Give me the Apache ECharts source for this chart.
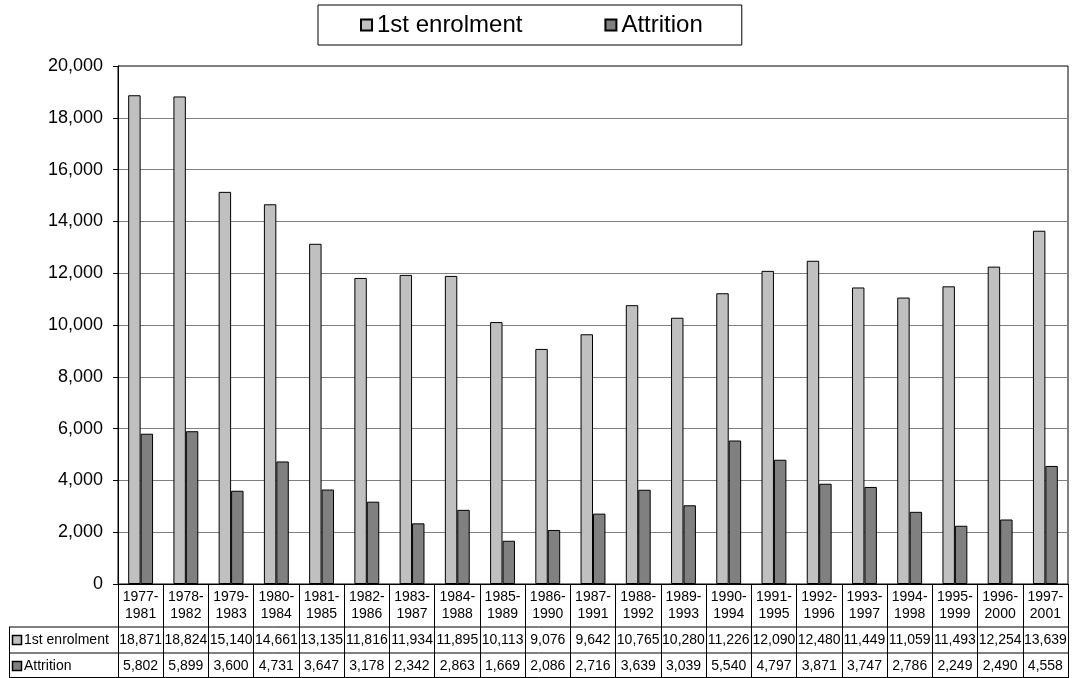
<!DOCTYPE html>
<html>
<head>
<meta charset="utf-8">
<script src="https://cdn.jsdelivr.net/npm/echarts@6/dist/echarts.min.js"></script>
<style>
  html, body { margin: 0; padding: 0; background: #fff; }
  #chart { width: 1072px; height: 678px; }
</style>
</head>
<body>
<div id="chart"></div>
<script>
// Cohort periods (enrolment year - completion year)
const periods = [
  '1977-1981', '1978-1982', '1979-1983', '1980-1984', '1981-1985', '1982-1986',
  '1983-1987', '1984-1988', '1985-1989', '1986-1990', '1987-1991', '1988-1992',
  '1989-1993', '1990-1994', '1991-1995', '1992-1996', '1993-1997', '1994-1998',
  '1995-1999', '1996-2000', '1997-2001'
];
const enrolment = [
  18871, 18824, 15140, 14661, 13135, 11816, 11934, 11895, 10113, 9076, 9642,
  10765, 10280, 11226, 12090, 12480, 11449, 11059, 11493, 12254, 13639
];
const attrition = [
  5802, 5899, 3600, 4731, 3647, 3178, 2342, 2863, 1669, 2086, 2716,
  3639, 3039, 5540, 4797, 3871, 3747, 2786, 2249, 2490, 4558
];
const seriesNames = ['1st enrolment', 'Attrition'];
const seriesColors = ['#c0c0c0', '#808080'];
const yMin = 0, yMax = 20000, yStep = 2000;

const FONT = 'Liberation Sans, Arial, Helvetica, sans-serif';
const W = 1072, H = 678;
const plot = { left: 118, right: 1068, top: 66, bottom: 584 };
const table = { labelLeft: 9, catRowH: 43, valRowH: 26 };

const fmt = v => String(v).replace(/\B(?=(\d{3})+(?!\d))/g, ',');

// rows of the data table under the plot
const row1Top = plot.bottom + table.catRowH;
const row2Top = row1Top + table.valRowH;
const tableBottom = H - 0.5;

function valueAxis(values, offset) {
  return {
    type: 'category',
    gridIndex: 0,
    position: 'bottom',
    offset: offset,
    data: values.map(fmt),
    axisLine: { show: false },
    axisTick: { show: false },
    axisLabel: { interval: 0, margin: 6, fontSize: 14, color: '#000', fontFamily: FONT }
  };
}

const lineStyle = { stroke: '#000', lineWidth: 1 };
const graphic = [
  { type: 'line', shape: { x1: table.labelLeft, y1: row1Top, x2: plot.right, y2: row1Top }, style: lineStyle },
  { type: 'line', shape: { x1: table.labelLeft, y1: row2Top, x2: plot.right, y2: row2Top }, style: lineStyle },
  { type: 'line', shape: { x1: table.labelLeft, y1: tableBottom, x2: plot.right, y2: tableBottom }, style: lineStyle },
  { type: 'line', shape: { x1: table.labelLeft + 0.5, y1: row1Top, x2: table.labelLeft + 0.5, y2: tableBottom }, style: lineStyle }
];
[row1Top, row2Top].forEach((top, i) => {
  const cy = top + table.valRowH / 2;
  graphic.push({
    type: 'rect',
    shape: { x: 12.5, y: Math.round(cy - 5) + 0.5, width: 9, height: 9 },
    style: { fill: seriesColors[i], stroke: '#000', lineWidth: 1.5 }
  });
  graphic.push({
    type: 'text',
    x: 24, y: cy,
    style: { text: seriesNames[i], fontSize: 14, fontFamily: FONT, fill: '#000', verticalAlign: 'middle', align: 'left' }
  });
});

const chart = echarts.init(document.getElementById('chart'), null, { renderer: 'canvas' });
chart.setOption({
  animation: false,
  backgroundColor: '#fff',
  textStyle: { fontFamily: FONT, color: '#000' },
  legend: {
    data: seriesNames,
    left: 318,
    top: 5,
    padding: [8, 39, 8, 42],
    itemGap: 82,
    itemWidth: 11,
    itemHeight: 11,
    borderColor: '#000',
    borderWidth: 1,
    icon: 'rect',
    selectedMode: false,
    textStyle: { fontSize: 24, color: '#000', fontFamily: FONT }
  },
  grid: {
    left: plot.left,
    top: plot.top,
    width: plot.right - plot.left,
    height: plot.bottom - plot.top,
    show: true,
    borderColor: '#000',
    borderWidth: 1,
    backgroundColor: '#fff'
  },
  xAxis: [
    {
      type: 'category',
      data: periods,
      axisLine: { lineStyle: { color: '#000', width: 1 } },
      axisTick: { show: true, inside: false, length: H - plot.bottom, lineStyle: { color: '#000' } },
      axisLabel: {
        interval: 0, margin: 5, fontSize: 14, lineHeight: 17, color: '#000', fontFamily: FONT,
        formatter: v => v.replace('-', '-\n')
      }
    },
    valueAxis(enrolment, table.catRowH),
    valueAxis(attrition, table.catRowH + table.valRowH)
  ],
  yAxis: {
    type: 'value',
    min: yMin,
    max: yMax,
    interval: yStep,
    axisLine: { show: true, lineStyle: { color: '#000', width: 1 } },
    axisTick: { show: true, inside: false, length: 5, lineStyle: { color: '#000' } },
    axisLabel: { margin: 15, fontSize: 18, color: '#000', fontFamily: FONT, formatter: v => fmt(v) },
    splitLine: { show: true, showMaxLine: false, lineStyle: { color: '#808080', width: 1 } }
  },
  series: [
    {
      name: seriesNames[0], type: 'bar', data: enrolment, xAxisIndex: 0,
      barGap: '0%', barCategoryGap: '45%',
      itemStyle: { color: seriesColors[0], borderColor: '#000', borderWidth: 1 }
    },
    {
      name: seriesNames[1], type: 'bar', data: attrition, xAxisIndex: 0,
      barGap: '0%', barCategoryGap: '45%',
      itemStyle: { color: seriesColors[1], borderColor: '#000', borderWidth: 1 }
    }
  ],
  graphic: graphic
});
</script>
</body>
</html>
